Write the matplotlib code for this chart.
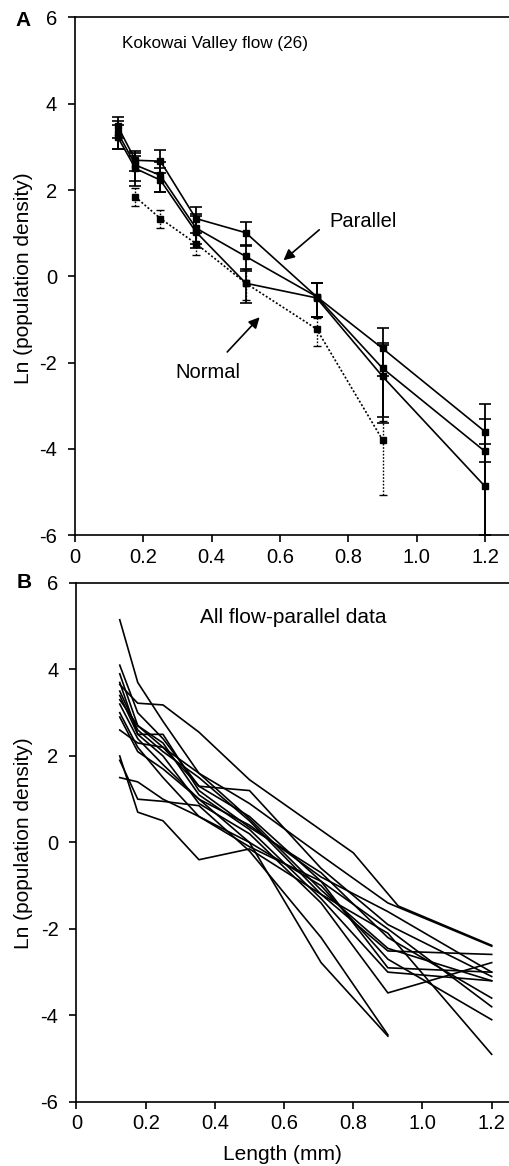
import numpy as np
import matplotlib.pyplot as plt

plt.rcParams['font.family'] = ['Liberation Sans', 'DejaVu Sans']
plt.rcParams['axes.unicode_minus'] = False

# ---- panel A: Kokowai Valley flow (26) ----
x_par = [0.125, 0.177, 0.25, 0.354, 0.5, 0.707, 0.9, 1.2]
par1 = [3.48, 2.69, 2.67, 1.34, 1.01, -0.47, -1.67, -3.60]
par1_lo = [3.20, 2.45, 2.40, 1.00, 0.70, -0.95, -2.30, -4.30]
par1_hi = [3.70, 2.90, 2.92, 1.60, 1.25, -0.15, -1.20, -2.95]
par2 = [3.33, 2.58, 2.34, 1.12, 0.46, -0.47, -2.13, -4.06]
par2_lo = [2.95, 2.20, 1.95, 0.75, 0.12, -0.95, -3.40, -6.00]
par2_hi = [3.60, 2.85, 2.65, 1.45, 0.72, -0.15, -1.55, -3.30]
par3 = [3.23, 2.50, 2.23, 1.03, -0.16, -0.50, -2.32, -4.87]
par3_lo = [2.95, 2.10, 1.95, 0.65, -0.62, -0.95, -3.25, -6.00]
par3_hi = [3.50, 2.80, 2.50, 1.40, 0.18, -0.15, -1.60, -3.88]

x_norm = [0.177, 0.25, 0.354, 0.5, 0.707, 0.9]
norm = [1.84, 1.34, 0.76, -0.16, -1.22, -3.79]
norm_lo = [1.62, 1.12, 0.50, -0.55, -1.62, -5.07]
norm_hi = [2.04, 1.54, 1.00, 0.18, -0.96, -3.35]

# ---- panel B: all flow-parallel data ----
x_all = [0.125, 0.177, 0.25, 0.354, 0.5, 0.707, 0.9, 1.2]
all_lines = [
    [5.15, 3.70, 2.80, 1.60, 0.55, -1.10, -2.45, -3.20],
    [4.10, 3.00, 2.40, 1.30, 1.20, -0.60, -1.90, -3.10],
    [3.90, 2.70, 2.20, 1.30, 0.60, -0.90, -2.90, -3.00],
    [3.70, 2.50, 2.50, 1.20, 0.35, -0.70, -2.20, -3.60],
    [3.50, 2.60, 2.10, 1.50, 0.50, -1.20, -2.51, -2.59],
    [3.40, 2.50, 2.00, 0.90, 0.20, -1.40, -3.48, -2.78],
    [3.20, 2.40, 1.80, 1.00, 0.00, -1.00, -2.70, -4.10],
    [3.00, 2.20, 1.50, 0.60, -0.10, -0.90, -2.00, -3.80],
    [2.60, 2.30, 2.20, 1.60, 0.90, -0.30, -1.40, -2.40],
    [2.00, 0.70, 0.50, -0.40, -0.15, -1.20, -2.10, -4.90],
    [3.30, 2.70, 2.30, 1.10, 0.30, -1.30, -3.00, -3.20],
    [2.90, 2.10, 1.70, 1.00, 0.40, -0.80, -1.60, -3.00],
]
# lines with their own size classes
x_flat = [0.125, 0.177, 0.25, 0.354, 0.5, 0.8, 0.93, 1.2]
y_flat = [3.65, 3.22, 3.18, 2.55, 1.45, -0.24, -1.47, -2.38]
x_short = [0.125, 0.177, 0.25, 0.354, 0.5, 0.707, 0.9]
y_short1 = [1.50, 1.40, 1.00, 0.60, 0.00, -2.78, -4.48]
y_short2 = [1.90, 1.00, 0.95, 0.85, -0.20, -2.20, -4.45]

yticks = [6, 4, 2, 0, -2, -4, -6]
xticks = [0, 0.2, 0.4, 0.6, 0.8, 1.0, 1.2]
xticklabels = ['0', '0.2', '0.4', '0.6', '0.8', '1.0', '1.2']

fig = plt.figure(figsize=(5.1, 11.66), dpi=100)
axA = fig.add_axes([0.147, 0.541, 0.853, 0.444])
axB = fig.add_axes([0.150, 0.055, 0.850, 0.445])


def style_axis(ax, xmax):
    ax.set_xlim(0, xmax)
    ax.set_ylim(-6, 6)
    ax.spines['right'].set_visible(False)
    for s in ['left', 'bottom', 'top']:
        ax.spines[s].set_linewidth(1.2)
    ax.set_yticks(yticks)
    ax.set_xticks(xticks)
    ax.set_xticklabels(xticklabels)
    ax.tick_params(axis='y', direction='out', length=5, width=1.2, pad=8, labelsize=14.5)
    ax.tick_params(axis='x', direction='out', length=5, width=1.2, pad=4, labelsize=14.5)


def err(y, lo, hi):
    y = np.array(y)
    return [y - np.array(lo), np.array(hi) - y]


for y, lo, hi in [(par1, par1_lo, par1_hi), (par2, par2_lo, par2_hi), (par3, par3_lo, par3_hi)]:
    axA.errorbar(x_par, y, yerr=err(y, lo, hi), color='black', lw=1.2, marker='s', ms=4,
                 capsize=4, capthick=1.2, elinewidth=1.3, clip_on=True)

eb = axA.errorbar(x_norm, norm, yerr=err(norm, norm_lo, norm_hi), color='black', lw=1.2,
                  ls=(0, (1.2, 1.2)), marker='s', ms=4, capsize=3, capthick=1.0, elinewidth=1.0)
eb[2][0].set_linestyle((0, (1.2, 1.2)))

axA.text(0.138, 5.4, 'Kokowai Valley flow (26)', fontsize=12.3, va='center')
axA.text(0.745, 1.27, 'Parallel', fontsize=14.5, va='center')
axA.annotate('', xy=(0.604, 0.33), xytext=(0.721, 1.12),
             arrowprops=dict(arrowstyle='-|>', color='black', lw=1.2, mutation_scale=16))
axA.text(0.293, -2.22, 'Normal', fontsize=14.5, va='center')
axA.annotate('', xy=(0.546, -0.90), xytext=(0.44, -1.80),
             arrowprops=dict(arrowstyle='-|>', color='black', lw=1.2, mutation_scale=16))
style_axis(axA, 1.273)

for y in all_lines:
    axB.plot(x_all, y, color='black', lw=1.2)
axB.plot(x_flat, y_flat, color='black', lw=1.2)
axB.plot(x_short, y_short1, color='black', lw=1.2)
axB.plot(x_short, y_short2, color='black', lw=1.2)
axB.text(0.357, 5.2, 'All flow-parallel data', fontsize=15, va='center')
style_axis(axB, 1.253)

fig.text(0.045, 1 - 20 / 1166, 'A', fontsize=15, fontweight='bold', ha='center', va='center')
fig.text(0.047, 1 - 583 / 1166, 'B', fontsize=15, fontweight='bold', ha='center', va='center')
fig.text(0.047, 1 - 278 / 1166, 'Ln (population density)', fontsize=15, rotation=90,
         ha='center', va='center')
fig.text(0.047, 1 - 843 / 1166, 'Ln (population density)', fontsize=15, rotation=90,
         ha='center', va='center')
fig.text(282 / 510, 1 - 1155 / 1166, 'Length (mm)', fontsize=15, ha='center', va='center')

fig.savefig('out.png', dpi=100)
